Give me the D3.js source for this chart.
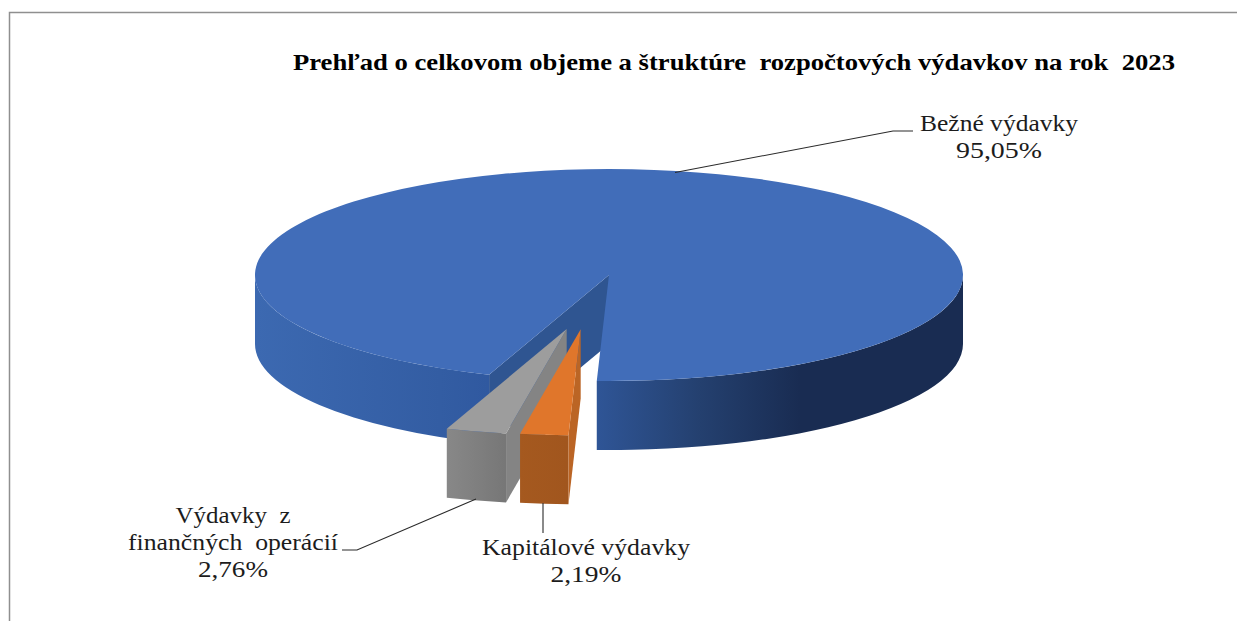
<!DOCTYPE html>
<html lang="sk">
<head>
<meta charset="utf-8">
<style>
html,body{margin:0;padding:0;background:#fff;overflow:hidden}
svg{display:block}
text{font-family:"Liberation Serif",serif;white-space:pre}
</style>
<script src="https://cdn.jsdelivr.net/npm/d3@7/dist/d3.min.js"></script>
</head>
<body>
<svg id="c" width="1237" height="621"></svg>
<script>
// ---- data ----
const chartTitle = "Prehľad o celkovom objeme a štruktúre  rozpočtových výdavkov na rok  2023";
const categories = ["Bežné výdavky", "Kapitálové výdavky", "Výdavky  z finančných  operácií"];
const shares = [95.05, 2.19, 2.76];
const shareLabels = ["95,05%", "2,19%", "2,76%"];

// ---- layout ----
const W = 1237, H = 621;
const cx = 609, cy = 275, rx = 354, ry = 106, depth = 69;
const startDeg = 199.8;
const sliceShift = [[0, 0], [-28.3, 54.3], [-42.3, 54]];
const paintOrder = [0, 2, 1];
const topFill = ["#416db9", "#e0762b", "#9d9d9d"];
const innerFill = ["#2f5591", "#bb6525", "#848484"];
const wallStops = [
  [[255, "#3c69b1"], [440, "#335da3"], [488, "#3059a0"], [597, "#2f5596"], [700, "#24406f"], [800, "#192c52"], [963, "#192c52"]],
  [[518, "#a5591f"], [567, "#a1561e"]],
  [[446, "#888888"], [505, "#777777"]]
];
const labelBoxes = [
  {cx: 999, lines: [{y: 131, w: 158}, {y: 157.5, w: 86}]},
  {cx: 586, lines: [{y: 554.5, w: 208}, {y: 582, w: 71}]},
  {cx: 233, lines: [{y: 523, w: 115}, {y: 550, w: 210}, {y: 576.5, w: 70}]}
];
const labelBreaks = [[categories[0]], [categories[1]], ["Výdavky  z", "finančných  operácií"]];
const leaders = [
  [[675, 172.5], [893, 131], [913, 131]],
  [[543, 503], [543, 533]],
  [[476, 499], [357, 550], [342, 550]]
];
const FS = 22.5;

const svg = d3.select("#c");
const toRad = d => d * Math.PI / 180;
const pie = d3.pie().sort(null).value(d => d)
  .startAngle(toRad(startDeg)).endAngle(toRad(startDeg + 360));
const arcs = pie(shares);

// frame
svg.append("path")
  .attr("d", `M9.5 ${H}V12.5H${W}`)
  .attr("fill", "none").attr("stroke", "#8f8f8f").attr("stroke-width", 1.5);

// ellipse geometry
const ex = a => rx * Math.sin(a);
const ey = a => -ry * Math.cos(a);
const topArc = d3.arc().innerRadius(0).outerRadius(rx);

// gradients
const defs = svg.append("defs");
wallStops.forEach((stops, i) => {
  const x0 = stops[0][0], x1 = stops[stops.length - 1][0];
  const tx = cx + sliceShift[i][0];
  const g = defs.append("linearGradient").attr("id", "wall" + i)
    .attr("gradientUnits", "userSpaceOnUse")
    .attr("x1", x0 - tx).attr("x2", x1 - tx).attr("y1", 0).attr("y2", 0);
  stops.forEach(s => g.append("stop")
    .attr("offset", (s[0] - x0) / (x1 - x0)).attr("stop-color", s[1]));
});

function wallPaths(s, e) {
  const out = [];
  for (let k = 0; k < 2; k++) {
    const lo = Math.max(s, toRad(90 + 360 * k)), hi = Math.min(e, toRad(270 + 360 * k));
    if (hi > lo) {
      out.push(`M${ex(lo)} ${ey(lo)}A${rx} ${ry} 0 0 1 ${ex(hi)} ${ey(hi)}` +
        `L${ex(hi)} ${ey(hi) + depth}A${rx} ${ry} 0 0 0 ${ex(lo)} ${ey(lo) + depth}Z`);
    }
  }
  return out;
}

paintOrder.forEach(i => {
  const d = arcs[i];
  const g = svg.append("g").attr("class", "slice")
    .attr("transform", `translate(${cx + sliceShift[i][0]},${cy + sliceShift[i][1]})`);
  const a = d.startAngle;
  wallPaths(d.startAngle, d.endAngle).forEach(p => {
    g.append("path").attr("d", p).attr("fill", `url(#wall${i})`);
  });
  g.append("path")
    .attr("d", `M0 0L${ex(a)} ${ey(a)}L${ex(a)} ${ey(a) + depth}L0 ${depth}Z`)
    .attr("fill", innerFill[i]);
  g.append("path")
    .attr("transform", `scale(1,${ry / rx})`)
    .attr("d", topArc({startAngle: d.startAngle, endAngle: d.endAngle}))
    .attr("fill", topFill[i]);
});

// leaders
const leaderLine = d3.line();
svg.selectAll("path.leader").data(leaders).join("path")
  .attr("class", "leader")
  .attr("d", leaderLine)
  .attr("fill", "none").attr("stroke", "#2a2a2a").attr("stroke-width", 1.1);

// title
svg.append("text")
  .attr("x", 293).attr("y", 70)
  .attr("textLength", 882).attr("lengthAdjust", "spacingAndGlyphs")
  .attr("font-size", 23).attr("font-weight", 700).attr("fill", "#000")
  .text(chartTitle);

// labels
labelBoxes.forEach((box, i) => {
  const lines = labelBreaks[i].concat([shareLabels[i]]);
  lines.forEach((t, j) => {
    svg.append("text")
      .attr("x", box.cx).attr("y", box.lines[j].y)
      .attr("text-anchor", "middle")
      .attr("textLength", box.lines[j].w).attr("lengthAdjust", "spacingAndGlyphs")
      .attr("font-size", FS).attr("fill", "#1c1c1c")
      .text(t);
  });
});
</script>
</body>
</html>
